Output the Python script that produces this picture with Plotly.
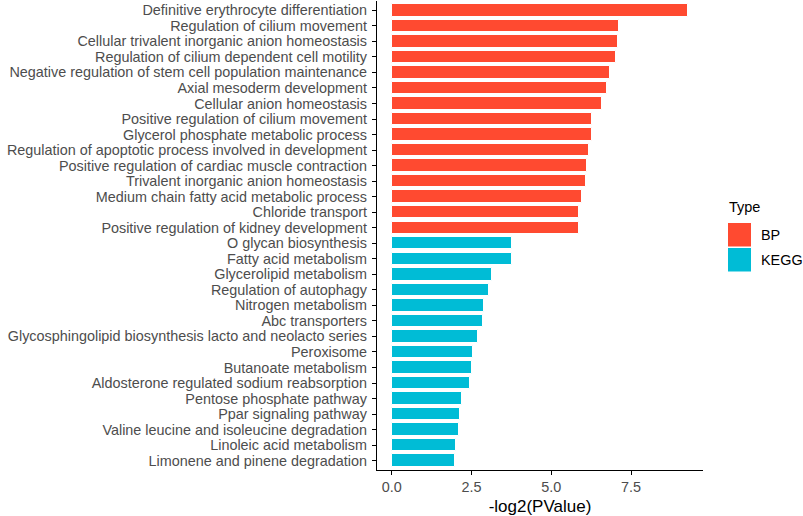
import plotly.graph_objects as go

bp_terms = [
    "Definitive erythrocyte differentiation",
    "Regulation of cilium movement",
    "Cellular trivalent inorganic anion homeostasis",
    "Regulation of cilium dependent cell motility",
    "Negative regulation of stem cell population maintenance",
    "Axial mesoderm development",
    "Cellular anion homeostasis",
    "Positive regulation of cilium movement",
    "Glycerol phosphate metabolic process",
    "Regulation of apoptotic process involved in development",
    "Positive regulation of cardiac muscle contraction",
    "Trivalent inorganic anion homeostasis",
    "Medium chain fatty acid metabolic process",
    "Chloride transport",
    "Positive regulation of kidney development",
]
bp_values = [9.29, 7.12, 7.09, 7.03, 6.83, 6.74, 6.60, 6.29, 6.27, 6.18,
             6.12, 6.08, 5.95, 5.88, 5.88]

kegg_terms = [
    "O glycan biosynthesis",
    "Fatty acid metabolism",
    "Glycerolipid metabolism",
    "Regulation of autophagy",
    "Nitrogen metabolism",
    "Abc transporters",
    "Glycosphingolipid biosynthesis lacto and neolacto series",
    "Peroxisome",
    "Butanoate metabolism",
    "Aldosterone regulated sodium reabsorption",
    "Pentose phosphate pathway",
    "Ppar signaling pathway",
    "Valine leucine and isoleucine degradation",
    "Linoleic acid metabolism",
    "Limonene and pinene degradation",
]
kegg_values = [3.78, 3.77, 3.15, 3.04, 2.89, 2.85, 2.69, 2.53, 2.50, 2.44,
               2.19, 2.15, 2.12, 2.01, 1.97]

x_ticks = [0, 2.5, 5, 7.5]
x_tick_labels = ["0.0", "2.5", "5.0", "7.5"]
legend_title = "Type"
type_names = ["BP", "KEGG"]
colors = ["#FF4A30", "#00BCD6"]

W, H = 803, 516
L, R, T, B = 377, 100, 1, 46
PW, PH = W - L - R, H - T - B

def px(xp):
    return (xp - L) / PW

def py(yp):
    return (H - B - yp) / PH

all_terms = bp_terms + kegg_terms
all_vals = bp_values + kegg_values
xmax = max(all_vals)

fig = go.Figure()
fig.add_trace(go.Bar(y=bp_terms, x=bp_values, orientation="h", width=0.8,
                     marker=dict(color=colors[0], line=dict(color="white", width=1)),
                     name=type_names[0], showlegend=False))
fig.add_trace(go.Bar(y=kegg_terms, x=kegg_values, orientation="h", width=0.8,
                     marker=dict(color=colors[1], line=dict(color="white", width=1)),
                     name=type_names[1], showlegend=False))

font_family = "Liberation Sans, Arial, sans-serif"

fig.update_layout(
    width=W, height=H,
    margin=dict(l=L, r=R, t=T, b=B, pad=0, autoexpand=False),
    paper_bgcolor="white", plot_bgcolor="white",
    font=dict(family=font_family, size=14.4, color="#4D4D4D"),
    bargap=0,
    xaxis=dict(
        range=[-0.05 * xmax, 1.05 * xmax],
        tickvals=x_ticks, ticktext=x_tick_labels,
        showgrid=False, zeroline=False,
        showline=True, linecolor="black", linewidth=1.3,
        ticks="outside", ticklen=4, tickcolor="black", tickwidth=1.1,
        tickfont=dict(size=14.4, color="#4D4D4D"),
        title=dict(text="-log2(PValue)", font=dict(size=17, color="black"), standoff=5),
    ),
    yaxis=dict(
        categoryorder="array", categoryarray=list(reversed(all_terms)),
        tickmode="array", tickvals=all_terms, ticktext=all_terms,
        range=[-0.6, len(all_terms) - 0.4],
        showgrid=False, zeroline=False,
        showline=True, linecolor="black", linewidth=1.3,
        ticks="outside", ticklen=4, tickcolor="black", tickwidth=1.1,
        ticklabelstandoff=2,
        tickfont=dict(size=14.4, color="#4D4D4D"),
    ),
)

# legend (ggplot style keys)
key_x0, key_x1 = 728, 751
key_tops = [223, 248]
for i, name in enumerate(type_names):
    y0 = key_tops[i]
    fig.add_shape(type="rect", xref="paper", yref="paper",
                  x0=px(key_x0), x1=px(key_x1), y0=py(y0 + 23.5), y1=py(y0),
                  fillcolor=colors[i], line=dict(width=0))
    fig.add_annotation(xref="paper", yref="paper", x=px(759), y=py(y0 + 12),
                       text=name, showarrow=False, xanchor="left", yanchor="middle",
                       font=dict(family=font_family, size=14.4, color="black"))
fig.add_annotation(xref="paper", yref="paper", x=px(727), y=py(207),
                   text=legend_title, showarrow=False, xanchor="left", yanchor="middle",
                   font=dict(family=font_family, size=14.5, color="black"))

fig.write_html(
    "out.html",
    config={"displayModeBar": False},
    post_script="document.body.style.margin='0';document.body.style.padding='0';",
)
